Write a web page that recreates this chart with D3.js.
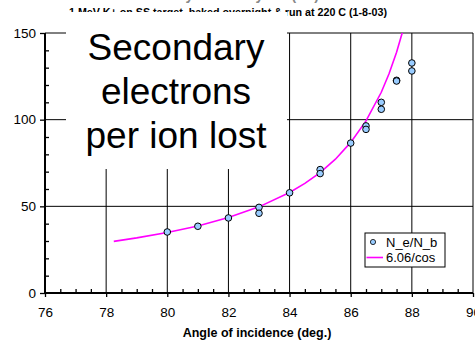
<!DOCTYPE html>
<html>
<head>
<meta charset="utf-8">
<script src="https://cdn.jsdelivr.net/npm/d3@7"></script>
<style>
  body { margin: 0; background: #fff; }
  svg { font-family: "Liberation Sans", Arial, sans-serif; display: block; }
</style>
</head>
<body>
<svg id="chart" width="475" height="342"></svg>
<script>
// measured points
const angles = [80, 81, 82, 83, 83, 84, 85, 85, 86, 86.5, 86.5, 87, 87, 87.5, 87.5, 88, 88];
const ratios = [35.2, 38.5, 43.3, 49.4, 46.0, 57.8, 71.2, 68.9, 86.5, 96.4, 94.4, 110, 106, 122.7, 122.3, 132.7, 128.1];

// 6.06/cos curve
const fitAngles = [78.25, 79, 80, 81, 82, 83, 84, 84.5, 85, 85.5, 86, 86.5, 87, 87.25, 87.5, 87.7];
const fitValues = [29.8, 31.8, 34.9, 38.7, 43.5, 49.7, 58.0, 63.2, 69.5, 77.2, 86.9, 99.3, 115.8, 126.3, 138.9, 151];

const xTicks = [76, 78, 80, 82, 84, 86, 88, 90];
const yTicks = [0, 50, 100, 150];
const seriesNames = ['N_e/N_b', '6.06/cos'];

const svg = d3.select('#chart');
const pl = 45, pr = 473, pt = 33, pb = 293;

const x = d3.scaleLinear().domain([76, 90]).range([pl, pr]);
const y = d3.scaleLinear().domain([0, 150]).range([pb, pt]);

// titles (top one mostly off the page)
svg.append('text')
  .attr('x', 319).attr('y', 0)
  .attr('text-anchor', 'end')
  .attr('font-size', 14).attr('font-weight', 'bold')
  .attr('fill', '#888')
  .text('Secondary electron yield (K+)');

svg.append('text')
  .attr('x', 228).attr('y', 16)
  .attr('text-anchor', 'middle')
  .attr('font-size', 10.7).attr('font-weight', 'bold')
  .text('1 MeV K+ on SS target, baked overnight & run at 220 C (1-8-03)');

// grid
const grid = svg.append('g').attr('stroke', '#000').attr('stroke-width', 1);
grid.selectAll('.vg')
  .data(xTicks.slice(1, -1))
  .enter().append('line')
  .attr('x1', d => x(d)).attr('x2', d => x(d))
  .attr('y1', pt).attr('y2', pb);
grid.selectAll('.hg')
  .data([50, 100])
  .enter().append('line')
  .attr('x1', pl).attr('x2', pr)
  .attr('y1', d => y(d)).attr('y2', d => y(d));

// frame
svg.append('line').attr('x1', pl).attr('x2', pr).attr('y1', pt).attr('y2', pt).attr('stroke', '#000');
svg.append('line').attr('x1', pr).attr('x2', pr).attr('y1', pt).attr('y2', pb).attr('stroke', '#000');

// axes
const xAxis = svg.append('g').attr('transform', `translate(0,${pb})`)
  .call(d3.axisBottom(x).tickValues(xTicks).tickSize(4).tickPadding(10).tickFormat(d3.format('d')));
const xMinor = svg.append('g').attr('transform', `translate(0,${pb})`)
  .call(d3.axisBottom(x).tickValues(d3.range(76.5, 90, 0.5).filter(v => v % 2 !== 0)).tickSize(-4).tickFormat(''));
const yAxis = svg.append('g').attr('transform', `translate(${pl},0)`)
  .call(d3.axisLeft(y).tickValues(yTicks).tickSize(5).tickPadding(4));
const yMinor = svg.append('g').attr('transform', `translate(${pl},0)`)
  .call(d3.axisLeft(y).tickValues(d3.range(10, 150, 10).filter(v => v % 50 !== 0)).tickSize(-4).tickFormat(''));

[xAxis, xMinor, yAxis, yMinor].forEach(g => {
  g.select('.domain').attr('stroke', '#000').attr('stroke-width', 2);
  g.selectAll('.tick line').attr('stroke', '#000').attr('stroke-width', 1.3);
  g.selectAll('text').attr('font-size', 13.5).attr('font-family', '"Liberation Sans", Arial, sans-serif').attr('fill', '#000');
});
xMinor.select('.domain').remove();
yMinor.select('.domain').remove();
xAxis.select('.domain').attr('d', `M${pl},0H${pr}`);
yAxis.select('.domain').attr('d', `M0,${pt}V${pb}`);

svg.append('text')
  .attr('x', (pl + pr) / 2 - 2).attr('y', 337)
  .attr('text-anchor', 'middle')
  .attr('font-size', 12.5).attr('font-weight', 'bold')
  .text('Angle of incidence (deg.)');

// white label box over the upper-left of the plot
svg.append('rect')
  .attr('x', 66).attr('y', 12)
  .attr('width', 221).attr('height', 157)
  .attr('fill', '#fff');

const bigText = svg.append('text')
  .attr('text-anchor', 'middle')
  .attr('font-size', 37);
['Secondary', 'electrons', 'per ion lost'].forEach((s, i) => {
  bigText.append('tspan').attr('x', 176).attr('y', 60 + i * 44).text(s);
});

// fit curve
svg.append('clipPath').attr('id', 'plotClip')
  .append('rect').attr('x', pl).attr('y', pt).attr('width', pr - pl).attr('height', pb - pt);

svg.append('path')
  .datum(fitAngles.map((a, i) => [a, fitValues[i]]))
  .attr('clip-path', 'url(#plotClip)')
  .attr('fill', 'none')
  .attr('stroke', '#ff00ff')
  .attr('stroke-width', 1.6)
  .attr('d', d3.line().x(d => x(d[0])).y(d => y(d[1])));

// points
svg.append('g').selectAll('circle')
  .data(angles.map((a, i) => [a, ratios[i]]))
  .enter().append('circle')
  .attr('cx', d => x(d[0])).attr('cy', d => y(d[1]))
  .attr('r', 3.3)
  .attr('fill', '#99ccff')
  .attr('stroke', '#000')
  .attr('stroke-width', 1);

// legend
const legend = svg.append('g').attr('transform', 'translate(365,233)');
legend.append('rect')
  .attr('width', 80).attr('height', 34)
  .attr('fill', '#fff').attr('stroke', '#000').attr('stroke-width', 1);
legend.append('circle')
  .attr('cx', 8).attr('cy', 9).attr('r', 2.6)
  .attr('fill', '#99ccff').attr('stroke', '#000').attr('stroke-width', 0.8);
legend.append('line')
  .attr('x1', 1.5).attr('x2', 18).attr('y1', 24.5).attr('y2', 24.5)
  .attr('stroke', '#ff00ff').attr('stroke-width', 1.6);
legend.selectAll('.lt')
  .data(seriesNames)
  .enter().append('text')
  .attr('x', 21).attr('y', (d, i) => 14 + i * 15)
  .attr('font-size', 13)
  .text(d => d);
</script>
</body>
</html>
